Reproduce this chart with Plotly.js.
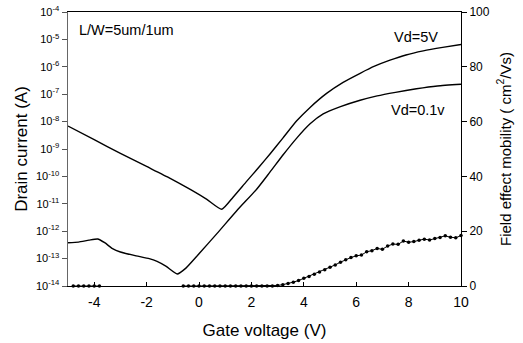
<!DOCTYPE html>
<html>
<head>
<meta charset="utf-8">
<script src="https://cdn.plot.ly/plotly-3.0.1.min.js"></script>
<style>html,body{margin:0;padding:0;background:#fff;}#chart{width:523px;height:343px;}</style>
</head>
<body>
<div id="chart"></div>
<script>
// Drain current, Vd = 5V (A)
const vg5 = [-5, -4, -3, -2, -1.1, -0.3, 0.3, 0.87, 1.3, 1.8, 2.3, 2.71, 3.2, 3.73, 4.24, 4.87, 5.5, 6.15, 6.7, 7.29, 7.9, 8.56, 9.3, 10];
const id5 = [6.9e-9, 2.2e-9, 6.9e-10, 2.3e-10, 8.5e-11, 3.2e-11, 1.45e-11, 6.3e-12, 1.74e-11, 6.3e-11, 2.24e-10, 6.6e-10, 2.5e-9, 1.07e-8, 3.3e-8, 1.07e-7, 2.7e-7, 5.8e-7, 1.05e-6, 1.74e-6, 2.7e-6, 3.8e-6, 5.1e-6, 6.5e-6];

// Drain current, Vd = 0.1V (A)
const vg01 = [-5, -4.6, -4.2, -3.87, -3.6, -3.3, -3.0, -2.4, -1.9, -1.6, -1.25, -0.83, -0.5, 0, 0.7, 1.44, 2.2, 2.7, 3.22, 3.73, 4.24, 4.74, 5.4, 6.15, 6.8, 7.5, 8.3, 9.1, 10];
const id01 = [3.8e-13, 4.0e-13, 4.7e-13, 5.2e-13, 3.8e-13, 2.3e-13, 1.74e-13, 1.26e-13, 1.0e-13, 7.9e-14, 5.2e-14, 2.75e-14, 4.5e-14, 1.5e-13, 8.5e-13, 5.6e-12, 3.4e-11, 1.4e-10, 6.3e-10, 2.5e-9, 8.3e-9, 1.9e-8, 3.5e-8, 6.0e-8, 8.7e-8, 1.17e-7, 1.58e-7, 2.0e-7, 2.3e-7];

// Field effect mobility (cm^2/Vs); null = gap
const vgMob = [-4.8, -4.6, -4.4, -4.2, -4.0, -3.8, -2.2,
  -0.6, -0.4, -0.2, 0.0, 0.2, 0.4, 0.6, 0.8, 1.0, 1.2, 1.4, 1.6, 1.8, 2.0, 2.2, 2.4, 2.6, 2.8,
  3.0, 3.2, 3.4, 3.6, 3.8, 4.0, 4.2, 4.4, 4.6, 4.8, 5.0, 5.2, 5.4, 5.6, 5.8, 6.0,
  6.2, 6.4, 6.6, 6.8, 7.0, 7.2, 7.4, 7.6, 7.8, 8.0, 8.2, 8.4, 8.6, 8.8, 9.0, 9.2, 9.4, 9.6, 9.8, 10.0];
const mob = [0, 0, 0, 0, 0, 0, null,
  0, 0, 0, 0, 0, 0, 0, 0, 0, 0, 0, 0, 0, 0, 0, 0, 0, 0,
  0.2, 0.5, 0.9, 1.4, 2.0, 2.8, 3.5, 4.3, 5.1, 5.9, 6.8, 7.7, 8.7, 9.6, 10.4, 11.0,
  11.3, 12.5, 12.9, 13.7, 13.4, 14.6, 15.3, 15.2, 16.4, 16.0, 16.2, 16.7, 17.1, 16.8, 17.3, 17.7, 18.3, 17.8, 17.6, 18.4];

// Tick labels
const xTickVals = [-4, -2, 0, 2, 4, 6, 8, 10];
const xTickText = ['-4', '-2', '0', '2', '4', '6', '8', '10'];
const yTickVals = [1e-14, 1e-13, 1e-12, 1e-11, 1e-10, 1e-9, 1e-8, 1e-7, 1e-6, 1e-5, 1e-4];
const yTickText = ['10<sup>-14</sup>', '10<sup>-13</sup>', '10<sup>-12</sup>', '10<sup>-11</sup>', '10<sup>-10</sup>', '10<sup>-9</sup>', '10<sup>-8</sup>', '10<sup>-7</sup>', '10<sup>-6</sup>', '10<sup>-5</sup>', '10<sup>-4</sup>'];

const FONT = 'Liberation Sans, Arial, sans-serif';

const traces = [
  {x: vg5, y: id5, type: 'scatter', mode: 'lines', line: {color: '#000', width: 1.4, shape: 'spline', smoothing: 0.5}, hoverinfo: 'skip'},
  {x: vg01, y: id01, type: 'scatter', mode: 'lines', line: {color: '#000', width: 1.4, shape: 'spline', smoothing: 0.5}, hoverinfo: 'skip'},
  {x: vgMob, y: mob, yaxis: 'y2', type: 'scatter', mode: 'lines+markers', connectgaps: false, cliponaxis: false,
   line: {color: '#000', width: 1}, marker: {color: '#000', size: 3.5}, hoverinfo: 'skip'}
];

const layout = {
  width: 523, height: 343,
  margin: {l: 68, r: 62, t: 12, b: 57},
  paper_bgcolor: '#fff', plot_bgcolor: '#fff',
  showlegend: false,
  font: {family: FONT, color: '#000'},
  xaxis: {
    range: [-5, 10], tickvals: xTickVals, ticktext: xTickText,
    ticks: 'inside', ticklen: 4, tickcolor: '#000', tickwidth: 1,
    showline: true, linecolor: '#000', linewidth: 1, mirror: true,
    showgrid: false, zeroline: false, ticklabelstandoff: 3,
    tickfont: {family: FONT, size: 14, color: '#000'},
    title: {text: 'Gate voltage (V)', font: {family: FONT, size: 17, color: '#000'}, standoff: 15}
  },
  yaxis: {
    type: 'log', range: [-14, -4], tickvals: yTickVals, ticktext: yTickText,
    ticks: 'outside', ticklen: 5, tickcolor: '#555', tickwidth: 1,
    showline: true, linecolor: '#666', linewidth: 1.5,
    showgrid: false, zeroline: false,
    tickfont: {family: FONT, size: 11, color: '#000'},
    title: {text: 'Drain current (A)', font: {family: FONT, size: 17, color: '#000'}, standoff: 4}
  },
  yaxis2: {
    overlaying: 'y', side: 'right', range: [0, 100], tickvals: [0, 20, 40, 60, 80, 100],
    ticks: 'outside', ticklen: 5, tickcolor: '#000', tickwidth: 1,
    showline: true, linecolor: '#000', linewidth: 1,
    showgrid: false, zeroline: false,
    tickfont: {family: FONT, size: 12, color: '#000'},
    title: {text: 'Field effect mobility ( cm<sup>2</sup>/Vs)', font: {family: FONT, size: 15, color: '#000'}, standoff: 11}
  },
  annotations: [
    {text: 'L/W=5um/1um', xref: 'x', yref: 'paper', x: -4.67, y: 0.934, xanchor: 'left', yanchor: 'middle', showarrow: false, font: {family: FONT, size: 14.5, color: '#000'}},
    {text: 'Vd=5V', xref: 'x', yref: 'paper', x: 7.35, y: 0.907, xanchor: 'left', yanchor: 'middle', showarrow: false, font: {family: FONT, size: 14.5, color: '#000'}},
    {text: 'Vd=0.1v', xref: 'x', yref: 'paper', x: 7.25, y: 0.644, xanchor: 'left', yanchor: 'middle', showarrow: false, font: {family: FONT, size: 14.5, color: '#000'}}
  ]
};

Plotly.newPlot('chart', traces, layout, {staticPlot: true, displayModeBar: false});
</script>
</body>
</html>
